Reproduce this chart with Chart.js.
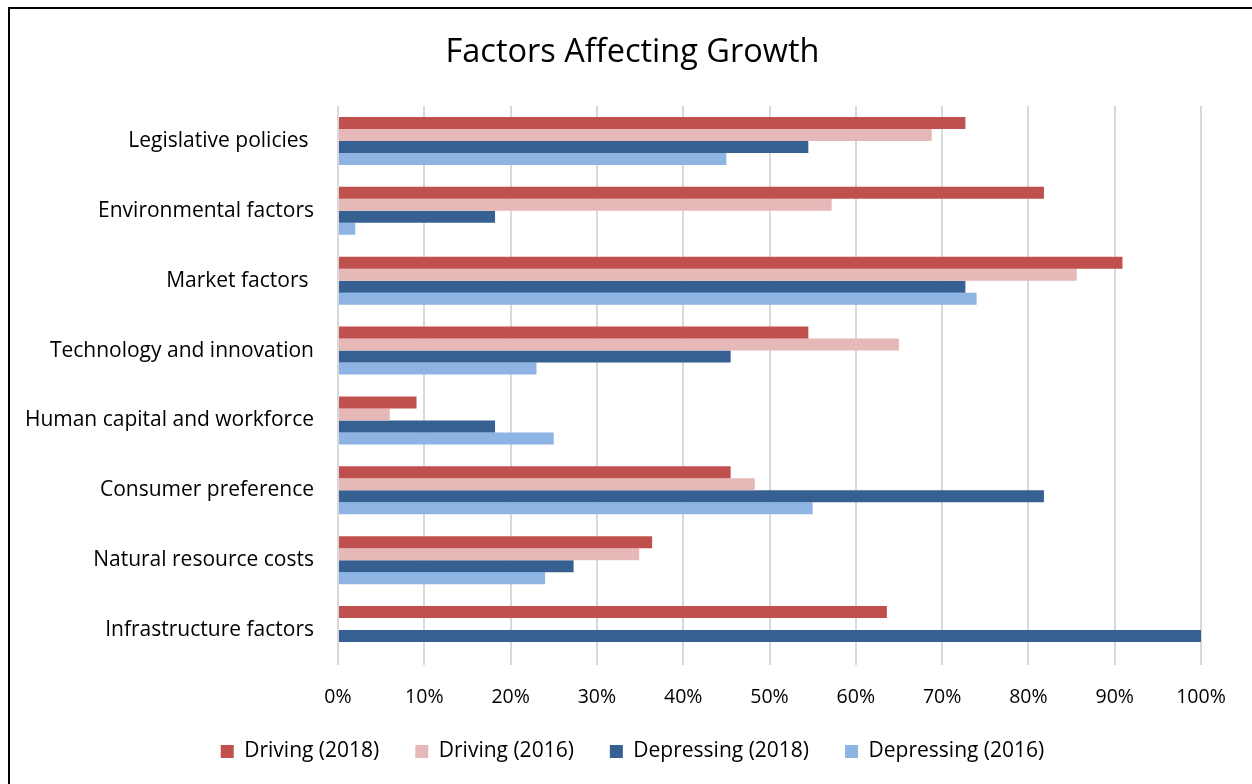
<!DOCTYPE html>
<html>
<head>
<meta charset="utf-8">
<title>Factors Affecting Growth</title>
<script src="https://cdn.jsdelivr.net/npm/chart.js@4"></script>
<style>
  html, body { margin: 0; padding: 0; background: #fff; }
  #wrap { position: relative; width: 1252px; height: 784px; }
  #frame {
    position: absolute; left: 8px; top: 7px; right: -10px; bottom: -10px;
    border-left: 2px solid #000; border-top: 2px solid #000;
    pointer-events: none;
  }
</style>
</head>
<body>
<div id="wrap">
  <canvas id="growthChart" width="1252" height="784"></canvas>
  <div id="frame"></div>
</div>
<script>
    var categories = [
      "Legislative policies ",
      "Environmental factors",
      "Market factors ",
      "Technology and innovation",
      "Human capital and workforce",
      "Consumer preference",
      "Natural resource costs",
      "Infrastructure factors"
    ];

    // values in percent (null = no bar)
    var driving2018    = [72.7, 81.8, 90.9, 54.5,  9.1, 45.5, 36.4, 63.6];
    var driving2016    = [68.8, 57.2, 85.6, 65.0,  6.0, 48.3, 34.9, null];
    var depressing2018 = [54.5, 18.2, 72.7, 45.5, 18.2, 81.8, 27.3, 100];
    var depressing2016 = [45.0,  2.0, 74.0, 23.0, 25.0, 55.0, 24.0, null];

    var xTicks = [0, 10, 20, 30, 40, 50, 60, 70, 80, 90, 100];

    var fontName = "'Open Sans'";
    var textColor = "#000000";
    var padLeft = 64;

    function makeSet(label, data, color) {
      return {
        label: label,
        data: data,
        backgroundColor: color,
        borderWidth: 0,
        barPercentage: 1.0,
        categoryPercentage: 0.686
      };
    }

    // the left padding centres title + legend; let the axis labels draw outside their boxes
    var freeLabels = {
      id: 'freeLabels',
      afterLayout: function(chart) {
        chart.scales.y.left = 0;
        chart.scales.x.bottom = chart.height;
      }
    };

    function createGrowthChart() {
      var ctx = document.getElementById('growthChart').getContext('2d');
      return new Chart(ctx, {
          type: 'bar',
          data: {
              labels: categories,
              datasets: [
                  makeSet('Driving (2018)', driving2018, '#C0504D'),
                  makeSet('Driving (2016)', driving2016, '#E6B9B8'),
                  makeSet('Depressing (2018)', depressing2018, '#366092'),
                  makeSet('Depressing (2016)', depressing2016, '#8EB4E3')
              ]
          },
          plugins: [freeLabels],
          options: {
              indexAxis: 'y',
              responsive: false,
              animation: false,
              layout: {
                  padding: { top: 0, left: padLeft, right: 51, bottom: 12 }
              },
              scales: {
                  x: {
                      min: 0,
                      max: 100,
                      afterBuildTicks: function(scale) {
                          scale.ticks = xTicks.map(function(v) { return { value: v }; });
                      },
                      afterFit: function(scale) {
                          scale.height = 40;
                      },
                      ticks: {
                          padding: 21,
                          color: textColor,
                          font: { family: fontName, size: 19.5 },
                          maxRotation: 0,
                          callback: function(v) { return v + '%'; }
                      },
                      grid: {
                          color: '#D9D9D9',
                          lineWidth: 2,
                          drawTicks: false
                      },
                      border: { display: false }
                  },
                  y: {
                      afterFit: function(scale) {
                          scale.width = 338 - padLeft;
                      },
                      ticks: {
                          padding: 24,
                          color: textColor,
                          font: { family: fontName, size: 21 }
                      },
                      grid: { display: false, drawTicks: false },
                      border: { display: false }
                  }
              },
              plugins: {
                  title: {
                      display: true,
                      text: 'Factors Affecting Growth',
                      color: textColor,
                      font: { family: fontName, size: 32.5, weight: 'normal' },
                      padding: { top: 33, bottom: 34 }
                  },
                  legend: {
                      position: 'bottom',
                      labels: {
                          boxWidth: 13,
                          boxHeight: 13,
                          padding: 36,
                          color: textColor,
                          font: { family: fontName, size: 21 }
                      }
                  },
                  tooltip: { enabled: false }
              }
          }
      });
    }

    var growthChart = createGrowthChart();
</script>
</body>
</html>
